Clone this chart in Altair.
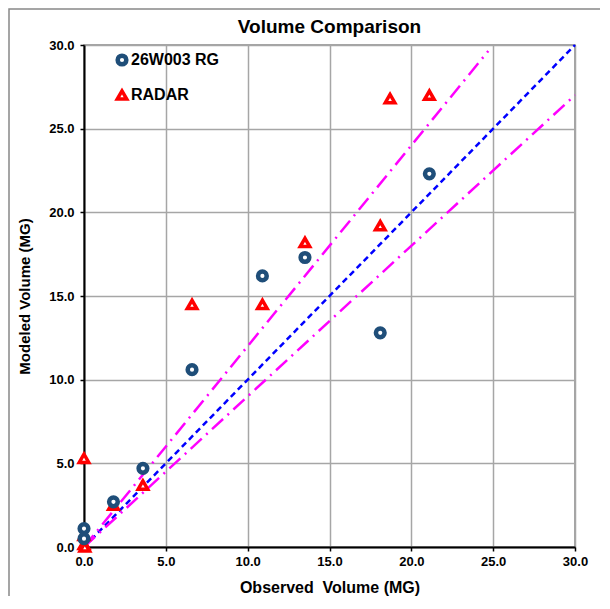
import altair as alt
import pandas as pd

# ---- data ----
series_names = ["26W003 RG", "RADAR"]
series_sizes = [75, 90]
series_strokes = [4.5, 3.5]

obs_rg = [0.0, 0.0, 1.8, 3.6, 6.6, 10.9, 13.5, 18.1, 21.1]
mod_rg = [1.1, 0.5, 2.7, 4.7, 10.6, 16.2, 17.3, 12.8, 22.3]

obs_radar = [0.0, 0.0, 0.0, 0.05, 1.8, 3.6, 6.6, 10.9, 13.5, 18.1, 18.7, 21.1]
mod_radar = [5.3, 0.7, 0.15, 0.0, 2.5, 3.7, 14.5, 14.5, 18.2, 19.2, 26.8, 27.0]

line_11_x = [0, 30]
line_11_y = [0, 30]
line_up_x = [0, 24.7]
line_up_y = [0, 29.64]
line_lo_x = [0, 30]
line_lo_y = [0, 27]

tick_vals = [0, 5, 10, 15, 20, 25, 30]
chart_title = ["Volume Comparison"]

FONT = "Liberation Sans"

pts = pd.DataFrame(
    {"obs": obs_rg + obs_radar,
     "mod": mod_rg + mod_radar,
     "series": [series_names[0]] * len(obs_rg) + [series_names[1]] * len(obs_radar)}
)
l11 = pd.DataFrame({"obs": line_11_x, "mod": line_11_y})
lup = pd.DataFrame({"obs": line_up_x, "mod": line_up_y})
llo = pd.DataFrame({"obs": line_lo_x, "mod": line_lo_y})

xs = alt.Scale(domain=[0, 30], nice=False, zero=False)
ys = alt.Scale(domain=[0, 30], nice=False, zero=False)

xax = alt.Axis(values=tick_vals, format=".1f", title="Observed\u00a0 Volume (MG)",
               titlePadding=11, labelPadding=4, titleFontSize=16, labelFlush=False)
yax = alt.Axis(values=tick_vals, format=".1f", title="Modeled Volume (MG)",
               titlePadding=16, labelPadding=6, titleFontSize=15, labelFlush=False)

X = alt.X("obs:Q", scale=xs, axis=xax)
Y = alt.Y("mod:Q", scale=ys, axis=yax)

frame = alt.Chart(pd.DataFrame({"a": [0]})).mark_rect(
    fill=None, stroke="#888888", strokeWidth=1.5, clip=False
).encode(x=alt.value(-75), y=alt.value(-36), x2=alt.value(540), y2=alt.value(580))

title_txt = alt.Chart(pd.DataFrame({"t": chart_title})).mark_text(
    font=FONT, fontSize=19, fontWeight="bold", color="black", align="center", baseline="middle"
).encode(x=alt.value(245.5), y=alt.value(-18), text="t:N")

one = alt.Chart(l11).mark_line(color="#0000FF", strokeWidth=2.5, strokeDash=[6, 4]).encode(x=X, y=Y)
up = alt.Chart(lup).mark_line(color="#FF00FF", strokeWidth=2.5, strokeDash=[15, 6, 2, 6]).encode(x=X, y=Y)
lo = alt.Chart(llo).mark_line(color="#FF00FF", strokeWidth=2.5, strokeDash=[15, 6, 2, 6]).encode(x=X, y=Y)

points = alt.Chart(pts).mark_point(
    filled=False, fill="white", fillOpacity=1, opacity=1, clip=False
).encode(
    x=X, y=Y,
    color=alt.Color("series:N",
                    scale=alt.Scale(domain=series_names, range=["#1F4E79", "#FF0000"]),
                    legend=alt.Legend(title=None, orient="none", legendX=30, legendY=7,
                                      padding=0, rowPadding=9, labelFontSize=16,
                                      labelFontWeight="bold", labelFont=FONT,
                                      labelColor="black", labelOffset=1,
                                      symbolSize=75, symbolStrokeWidth=4,
                                      symbolFillColor="white")),
    shape=alt.Shape("series:N",
                    scale=alt.Scale(domain=series_names, range=["circle", "triangle-up"]),
                    legend=None),
    size=alt.Size("series:N",
                  scale=alt.Scale(domain=series_names, range=series_sizes),
                  legend=None),
    strokeWidth=alt.StrokeWidth("series:N",
                                scale=alt.Scale(domain=series_names, range=series_strokes),
                                legend=None),
    order=alt.Order("series:N", sort="descending"),
)

chart = alt.layer(frame, title_txt, one, up, lo, points).properties(
    width=491, height=502,
    background="white",
    autosize=alt.AutoSizeParams(type="none"),
    padding={"left": 76, "top": 37, "right": 25, "bottom": 49},
).configure_view(
    stroke="#888888", strokeWidth=1.5
).configure_axis(
    labelFont=FONT, labelFontSize=13, labelFontWeight="bold", labelColor="black",
    titleFont=FONT, titleFontWeight="bold", titleColor="black",
    domainColor="black", domainWidth=2, tickColor="black", tickSize=4, tickWidth=1.5,
    gridColor="#A6A6A6", gridWidth=1.5,
)

chart.save("out.html", embed_options={"renderer": "svg", "actions": False})
